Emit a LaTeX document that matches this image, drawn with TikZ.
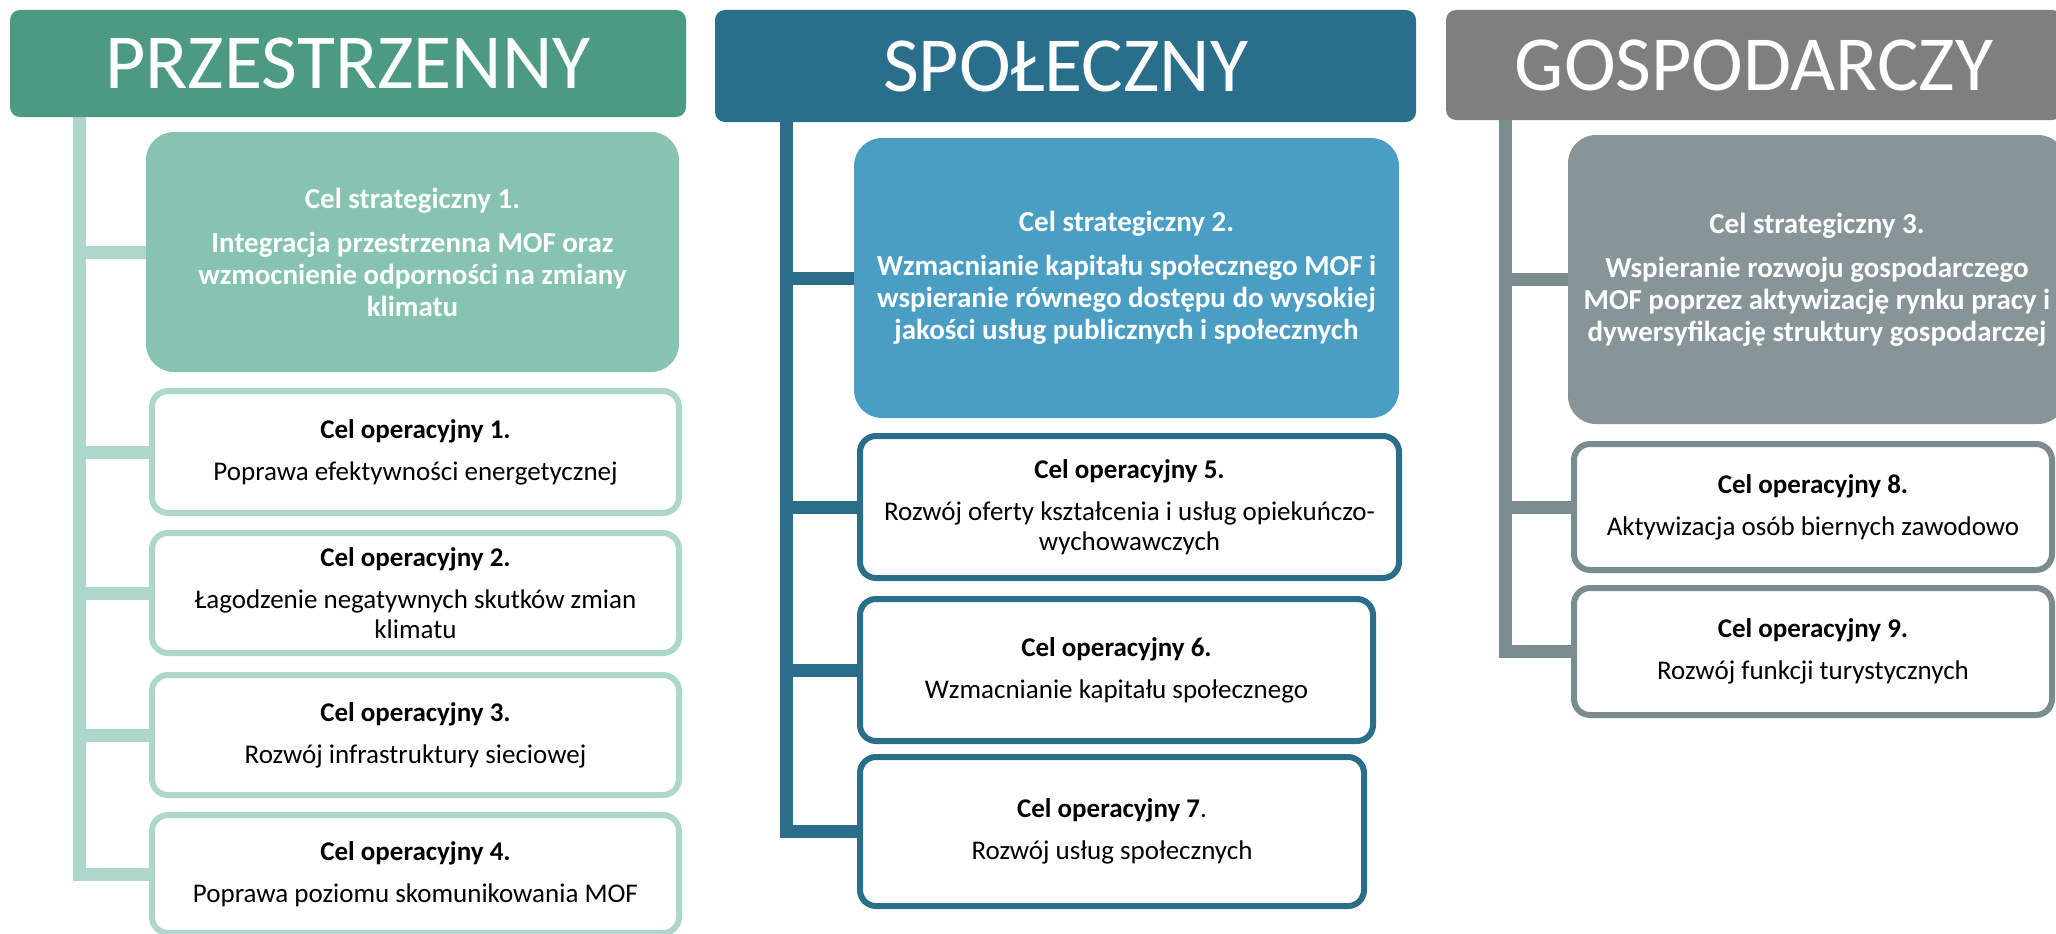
\documentclass[tikz,border=0pt]{standalone}
\usepackage{fontspec}
\setmainfont{Carlito}
\usetikzlibrary{backgrounds}
\definecolor{gA}{HTML}{4C9A82}
\definecolor{gB}{HTML}{86C3B0}
\definecolor{gC}{HTML}{ACD7CA}
\definecolor{bA}{HTML}{296F8B}
\definecolor{bB}{HTML}{4A9EC3}
\definecolor{bC}{HTML}{2A6E8A}
\definecolor{rA}{HTML}{7F7F7F}
\definecolor{rB}{HTML}{879598}
\definecolor{rC}{HTML}{7B8C8E}
\tikzset{
  hdr/.style={rectangle, rounded corners=10pt, anchor=north west, inner sep=0pt, outer sep=0pt,
    text=white, font=\fontsize{78}{90}\selectfont},
  sbox/.style={rectangle, rounded corners=28pt, anchor=north west, inner sep=0pt, outer sep=0pt,
    text=white, align=center, font=\fontsize{29}{32}\selectfont\bfseries},
  obox/.style={rectangle, rounded corners=16pt, anchor=north west, inner sep=0pt, outer sep=3pt,
    line width=6pt, fill=white, text=black, align=center, font=\fontsize{27}{30}\selectfont},
  trunk/.style={line width=13pt, line join=miter},
}
\begin{document}
\begin{tikzpicture}[x=1pt,y=-1pt]
\useasboundingbox (0,0) rectangle (2056,934);
\clip (0,0) rectangle (2056,934);

% headers
\node[hdr, fill=gA, minimum width=676pt, minimum height=107pt] (h1) at (10,10) {PRZESTRZENNY};
\node[hdr, fill=bA, minimum width=701pt, minimum height=112pt] (h2) at (715,10) {SPOŁECZNY};
\node[hdr, fill=rA, minimum width=616pt, minimum height=110pt] (h3) at (1446,10) {GOSPODARCZY};

% trunk coordinates
\coordinate (t1) at (79,117);
\coordinate (t2) at (786,122);
\coordinate (t3) at (1505,120);

% strategic boxes
\node[sbox, fill=gB, minimum width=533pt, minimum height=240pt] (s1) at (146,132)
  {Cel strategiczny 1.\\[12pt] Integracja przestrzenna MOF oraz\\ wzmocnienie odporności na zmiany\\ klimatu};
\node[sbox, fill=bB, minimum width=545pt, minimum height=280pt] (s2) at (854,138)
  {Cel strategiczny 2.\\[12pt] Wzmacnianie kapitału społecznego MOF i\\ wspieranie równego dostępu do wysokiej\\ jakości usług publicznych i społecznych};
\node[sbox, fill=rB, minimum width=498pt, minimum height=289pt] (s3) at (1568,135)
  {Cel strategiczny 3.\\[12pt] Wspieranie rozwoju gospodarczego\\ MOF poprzez aktywizację rynku pracy i\\ dywersyfikację struktury gospodarczej};

% operational boxes
\node[obox, draw=gC, minimum width=527pt, minimum height=122pt] (o1) at (149,388)
  {\bfseries Cel operacyjny 1.\\[12pt] Poprawa efektywności energetycznej};
\node[obox, draw=gC, minimum width=527pt, minimum height=120pt] (o2) at (149,530)
  {\bfseries Cel operacyjny 2.\\[12pt] Łagodzenie negatywnych skutków zmian\\ klimatu};
\node[obox, draw=gC, minimum width=527pt, minimum height=120pt] (o3) at (149,672)
  {\bfseries Cel operacyjny 3.\\[12pt] Rozwój infrastruktury sieciowej};
\node[obox, draw=gC, minimum width=527pt, minimum height=118pt] (o4) at (149,812)
  {\bfseries Cel operacyjny 4.\\[12pt] Poprawa poziomu skomunikowania MOF};

\node[obox, draw=bC, minimum width=539pt, minimum height=142pt] (o5) at (857,433)
  {\bfseries Cel operacyjny 5.\\[12pt] Rozwój oferty kształcenia i usług opiekuńczo-\\ wychowawczych};
\node[obox, draw=bC, minimum width=513pt, minimum height=142pt] (o6) at (857,596)
  {\bfseries Cel operacyjny 6.\\[12pt] Wzmacnianie kapitału społecznego};
\node[obox, draw=bC, minimum width=504pt, minimum height=149pt] (o7) at (857,754)
  {{\bfseries Cel operacyjny 7}.\\[12pt] Rozwój usług społecznych};

\node[obox, draw=rC, minimum width=478pt, minimum height=126pt] (o8) at (1571,441)
  {\bfseries Cel operacyjny 8.\\[12pt] Aktywizacja osób biernych zawodowo};
\node[obox, draw=rC, minimum width=478pt, minimum height=127pt] (o9) at (1571,585)
  {\bfseries Cel operacyjny 9.\\[12pt] Rozwój funkcji turystycznych};

% connectors
\begin{scope}[on background layer]
\draw[trunk, gC] (t1) |- (o4.west);
\draw[trunk, gC] (t1 |- s1.west) -- (s1.west);
\draw[trunk, gC] (t1 |- o1.west) -- (o1.west);
\draw[trunk, gC] (t1 |- o2.west) -- (o2.west);
\draw[trunk, gC] (t1 |- o3.west) -- (o3.west);

\draw[trunk, bC] (t2) |- (o7.west);
\draw[trunk, bC] (t2 |- s2.west) -- (s2.west);
\draw[trunk, bC] (t2 |- o5.west) -- (o5.west);
\draw[trunk, bC] (t2 |- o6.west) -- (o6.west);

\draw[trunk, rC] (t3) |- (o9.west);
\draw[trunk, rC] (t3 |- s3.west) -- (s3.west);
\draw[trunk, rC] (t3 |- o8.west) -- (o8.west);
\end{scope}
\end{tikzpicture}
\end{document}
